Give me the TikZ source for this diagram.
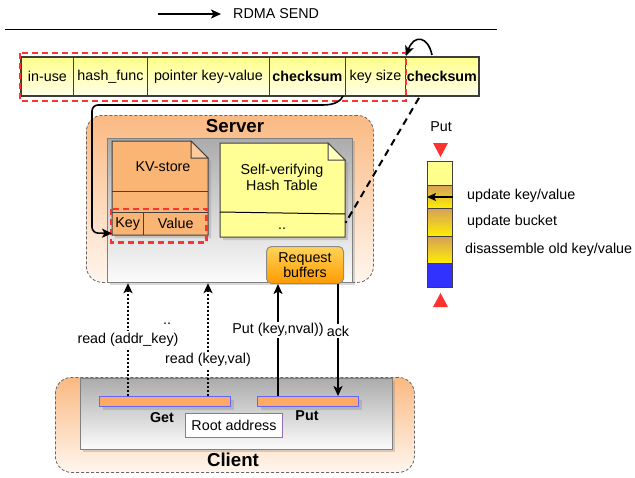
\documentclass[tikz,border=0pt]{standalone}
\usepackage{fontspec}
\setmainfont{Liberation Sans}
\usetikzlibrary{arrows.meta,shadows}
\definecolor{celltop}{RGB}{255,255,140}
\definecolor{cellbottom}{RGB}{255,255,232}
\definecolor{recgray}{RGB}{60,60,60}
\definecolor{markred}{RGB}{255,50,50}
\definecolor{srvtop}{RGB}{250,185,130}
\definecolor{srvbottom}{RGB}{255,246,238}
\definecolor{graytop}{RGB}{172,172,172}
\definecolor{graybottom}{RGB}{252,252,252}
\definecolor{kvorange}{RGB}{250,180,115}
\definecolor{hashyellow}{RGB}{255,255,150}
\definecolor{reqtop}{RGB}{255,212,90}
\definecolor{reqbottom}{RGB}{255,155,0}
\definecolor{barorange}{RGB}{255,170,100}
\definecolor{barblue}{RGB}{100,100,255}
\definecolor{rootpurple}{RGB}{150,110,175}
\definecolor{coltan}{RGB}{215,160,90}
\definecolor{colyellow}{RGB}{255,240,0}
\definecolor{colblue}{RGB}{50,50,255}
\newcommand{\lblfont}{\fontsize{14.3}{15}\selectfont}
\tikzset{
  lbl/.style={font=\lblfont, inner sep=1pt},
  boldlbl/.style={font=\lblfont\bfseries, inner sep=1pt},
  grouptitle/.style={font=\fontsize{18.7}{20}\selectfont\bfseries, inner sep=1pt},
  cell/.style={draw=recgray, line width=0.9pt, top color=celltop, bottom color=cellbottom,
    minimum height=38pt, inner sep=0pt, anchor=north west, font=\lblfont},
  reddash/.style={draw=markred, line width=2.2pt, dash pattern=on 6pt off 4pt},
  groupbox/.style={draw=black!60, line width=0.8pt, dash pattern=on 3pt off 2pt,
    rounded corners=16pt, top color=srvtop, bottom color=srvbottom, anchor=north west},
  graybox/.style={draw=black!50, line width=1.2pt, top color=graytop, bottom color=graybottom,
    anchor=north west, drop shadow={shadow xshift=2pt, shadow yshift=-2pt, opacity=0.3}},
  note/.style={draw=black!75, line width=1pt,
    drop shadow={shadow xshift=3pt, shadow yshift=-3pt, opacity=0.3}},
  bar/.style={draw=barblue, line width=1pt, fill=barorange, anchor=north west, inner sep=0pt,
    drop shadow={shadow xshift=3pt, shadow yshift=-3pt, opacity=0.3}},
  seg/.style={draw=black!75, line width=1pt, anchor=north west, minimum width=25pt, inner sep=0pt},
  link/.style={-{Stealth[length=10pt,width=9pt,inset=2.5pt]}, line width=1.6pt},
  dotlink/.style={link, dash pattern=on 2pt off 2pt, line width=2.2pt},
  dashlink/.style={line width=2pt, dash pattern=on 7pt off 5pt},
  onlbl/.style={lbl, fill=white, inner sep=1.5pt}
}
\begin{document}
\begin{tikzpicture}[x=1pt,y=-1pt]
  \useasboundingbox (0,0) rectangle (635,477);

  % Legend
  \coordinate (sendtail) at (158,14);
  \node[lbl, anchor=west] (sendlbl) at (232,14) {RDMA SEND};
  \draw[link] (sendtail) -- ([xshift=-11pt]sendlbl.west);
  \draw[line width=0.9pt] (5,29) -- (497,29);

  % Hash table entry
  \node[cell, minimum width=52pt] (inuse) at (21,57) {in-use};
  \node[cell, minimum width=74pt] (hashfunc) at (73,57) {hash\_func};
  \node[cell, minimum width=122pt] (pointer) at (147,57) {pointer key-value};
  \node[cell, minimum width=76pt, font=\lblfont\bfseries] (cksum) at (269,57) {checksum};
  \node[cell, minimum width=60pt] (keysize) at (345,57) {key size};
  \node[cell, minimum width=73pt, font=\lblfont\bfseries] (cksumall) at (405,57) {checksum};
  \draw[recgray, line width=2pt] (inuse.north west) rectangle (cksumall.south east);
  \draw[reddash] ([xshift=-1pt,yshift=4pt]inuse.north west) rectangle ([yshift=-5pt]keysize.south east);
  \draw[link] ([xshift=27pt,yshift=2pt]cksumall.north west) .. controls (428,36) and (414,34) .. ([xshift=1pt,yshift=1pt]cksumall.north west);

  % Server
  \node[groupbox, minimum width=287pt, minimum height=167pt] (server) at (86,115) {};
  \node[grouptitle] (servertitle) at (235,126) {Server};
  \node[graybox, minimum width=245pt, minimum height=144pt] (srvinner) at (107,138) {};

  % KV-store
  \draw[note, fill=kvorange] (112,141) -- (191,141) -- (208,158) -- (208,235) -- (112,235) -- cycle;
  \draw[black!75, line width=1pt, fill=kvorange!70!white] (191,141) -- (191,158) -- (208,158) -- cycle;
  \draw[black!75, line width=1pt] (112,191) -- (208,191);
  \draw[black!75, line width=1pt] (112,212) -- (208,212);
  \draw[black!75, line width=1pt] (143,212) -- (143,235);
  \node[lbl] (kvtitle) at (163,167) {KV-store};
  \node[lbl, anchor=north west, minimum width=31pt, minimum height=23pt] (kvkey) at (112,212) {Key};
  \node[lbl, anchor=north west, minimum width=65pt, minimum height=23pt] (kvval) at (143,212) {Value};
  \draw[reddash] ([xshift=-1pt,yshift=3pt]kvkey.north west) rectangle ([xshift=-2pt,yshift=-7pt]kvval.south east);

  % Self-verifying hash table
  \draw[note, fill=hashyellow] (220,143) -- (328,143) -- (345,160) -- (345,237) -- (220,237) -- cycle;
  \draw[black!75, line width=1pt, fill=hashyellow!60!white] (328,143) -- (328,160) -- (345,160) -- cycle;
  \draw[black, line width=1pt] (220,212) -- (345,214);
  \node[lbl, align=center] (hashtitle) at (282,177) {Self-verifying\\[1pt]Hash Table};
  \node[lbl, anchor=base] (hashdots) at (282,229) {..};
  \coordinate (hashedge) at (346,222);

  % Request buffers
  \node[lbl, align=center, draw=black!45, line width=1pt, rounded corners=5pt, top color=reqtop,
    bottom color=reqbottom, anchor=north west, minimum width=77pt, minimum height=37pt] (reqbuf) at (266,246) {Request\\buffers};

  % Client
  \node[groupbox, minimum width=359pt, minimum height=95pt] (client) at (55,377) {};
  \node[grouptitle] (clienttitle) at (233,460) {Client};
  \node[graybox, minimum width=312pt, minimum height=71pt] (clinner) at (80,378) {};
  \node[bar, minimum width=131pt, minimum height=10pt] (getbar) at (99,396) {};
  \node[bar, minimum width=101pt, minimum height=10pt] (putbar) at (257,396) {};
  \node[boldlbl] (getlbl) at (162,418) {Get};
  \node[boldlbl] (putlbl) at (307,416) {Put};
  \node[lbl, draw=rootpurple, line width=1pt, fill=white, anchor=north west, minimum width=97pt,
    minimum height=24pt] (root) at (185,413) {Root address};

  % Entry links
  \draw[link, rounded corners=6pt] ([xshift=-2pt]keysize.south west) .. controls (339,104) and (330,105) .. (315,105)
    -- (92,105) -- (92,233) -- ([yshift=2pt]kvkey.south west);
  \draw[dashlink] ([xshift=14pt,yshift=-2pt]cksumall.south west) -- (hashedge);
  \fill (hashedge) circle (1.3pt);

  % Client-server requests
  \coordinate (getfirst) at ([xshift=29pt]getbar.north west);
  \coordinate (getsecond) at ([xshift=109pt]getbar.north west);
  \coordinate (putsend) at ([xshift=21pt]putbar.north west);
  \coordinate (putack) at ([xshift=81pt]putbar.north west);
  \draw[dotlink] (getfirst) -- node[onlbl, pos=0.5] (rdaddr) {read (addr\_key)} (getfirst |- srvinner.south);
  \draw[dotlink] (getsecond) -- node[onlbl, pos=0.32] (rdkv) {read (key,val)} (getsecond |- srvinner.south);
  \draw[link] (putsend) -- node[onlbl, pos=0.59] (putreq) {Put (key,nval))} (putsend |- reqbuf.south);
  \draw[link] (putack |- reqbuf.south) -- node[onlbl, pos=0.42] (acklbl) {ack} (putack);
  \node[lbl, anchor=base] (getdots) at (167,324) {..};

  % Put timeline
  \node[lbl] (putcol) at (441,127) {Put};
  \fill[markred] (433,143) -- (448,143) -- (440.5,157) -- cycle;
  \node[seg, minimum height=24pt, fill=celltop] (seg1) at (427,161) {};
  \node[seg, minimum height=23pt, top color=coltan, bottom color=colyellow] (seg2) at (427,185) {};
  \node[seg, minimum height=28pt, top color=coltan, bottom color=colyellow] (seg3) at (427,208) {};
  \node[seg, minimum height=27pt, top color=coltan, bottom color=colyellow] (seg4) at (427,236) {};
  \node[seg, minimum height=24pt, fill=colblue] (seg5) at (427,263) {};
  \fill[markred] (433,307) -- (448,307) -- (440.5,293) -- cycle;
  \draw[-{Stealth[length=9pt,width=8pt,inset=2pt]}, line width=1.2pt] (seg2.east) -- (seg2.west);
  \node[lbl, anchor=west] (updkv) at (466,196) {update key/value};
  \node[lbl, anchor=west] (updbucket) at (466,222) {update bucket};
  \node[lbl, anchor=west] (disold) at (464,250) {disassemble old key/value};
\end{tikzpicture}
\end{document}
